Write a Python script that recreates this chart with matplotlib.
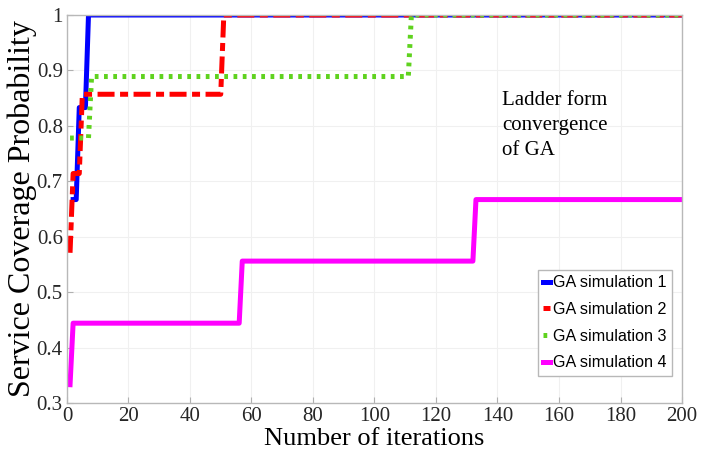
import matplotlib.pyplot as plt

# iteration / value pairs at the corners of each ladder curve
sim1_x = [2, 3, 4, 6, 7, 200]
sim1_y = [0.667, 0.667, 0.833, 0.833, 1.0, 1.0]
sim2_x = [1, 2, 4, 5, 50, 51, 200]
sim2_y = [0.571, 0.714, 0.714, 0.857, 0.857, 1.0, 1.0]
sim3_x = [1, 7, 8, 111, 112, 200]
sim3_y = [0.778, 0.778, 0.889, 0.889, 1.0, 1.0]
sim4_x = [1, 2, 56, 57, 132, 133, 200]
sim4_y = [0.333, 0.444, 0.444, 0.556, 0.556, 0.667, 0.667]

labels = ['GA simulation 1', 'GA simulation 2', 'GA simulation 3', 'GA simulation 4']
xticks = list(range(0, 201, 20))
yticks = [0.3, 0.4, 0.5, 0.6, 0.7, 0.8, 0.9, 1.0]
ytick_labels = ['0.3', '0.4', '0.5', '0.6', '0.7', '0.8', '0.9', '1']

serif = ['Liberation Serif', 'DejaVu Serif']

fig = plt.figure(figsize=(7.24, 4.63), dpi=100)
ax = fig.add_axes([0.0925, 0.1296, 0.8495, 0.838])

ax.plot(sim1_x, sim1_y, color='#0000ff', lw=3.6, label=labels[0])
ax.plot(sim2_x, sim2_y, color='#ff0000', lw=3.6, ls=(0, (3.4, 1.1, 1.6, 1.1)), label=labels[1])
ax.plot(sim3_x, sim3_y, color='#5fd21e', lw=3.6, ls=(0, (0.75, 1.1)), label=labels[2])
ax.plot(sim4_x, sim4_y, color='#ff00ff', lw=3.6, label=labels[3])

ax.set_xlim(0, 200)
ax.set_ylim(0.3, 1.0)
ax.set_xticks(xticks)
ax.set_yticks(yticks)
ax.set_xticklabels([str(t) for t in xticks], family=serif, fontsize=15)
ax.set_yticklabels(ytick_labels, family=serif, fontsize=15)
ax.tick_params(direction='in', length=4, color='#b0b0b0', labelcolor='#262626', pad=3)
ax.grid(True, color='#f0f0f0', lw=0.8)
for s in ax.spines.values():
    s.set_color('#b8b8b8')
    s.set_linewidth(1)

ax.set_xlabel('Number of iterations', family=serif, fontsize=19, labelpad=1)
ax.set_ylabel('Service Coverage Probability', family=serif, fontsize=23, labelpad=0)

ax.text(0.708, 0.805, 'Ladder form\nconvergence\nof GA', transform=ax.transAxes,
        family=serif, fontsize=15, va='top', ha='left', linespacing=1.45)

leg = ax.legend(loc='lower right', bbox_to_anchor=(0.984, 0.07), handlelength=0.4,
                handletextpad=0.2, borderpad=0.35, labelspacing=0.72, borderaxespad=0,
                fancybox=False, framealpha=1,
                prop={'family': ['Liberation Sans Narrow', 'Liberation Sans'], 'size': 11.6})
leg.get_frame().set_edgecolor('#b8b8b8')

fig.savefig('out.png', dpi=100)
